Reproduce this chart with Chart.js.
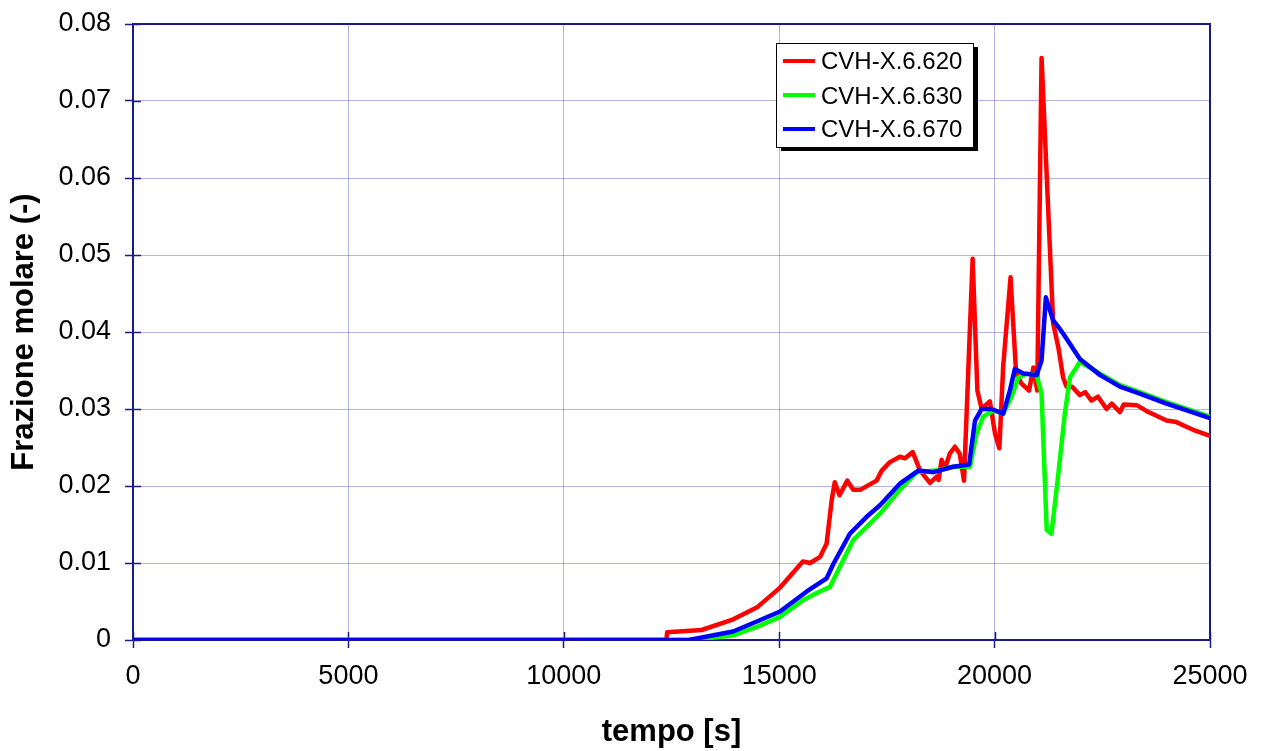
<!DOCTYPE html>
<html>
<head>
<meta charset="utf-8">
<script src="https://cdn.jsdelivr.net/npm/chart.js@4/dist/chart.umd.min.js"></script>
<style>
html,body{margin:0;padding:0;background:#fff;}
#wrap{width:1267px;height:751px;position:relative;}
</style>
</head>
<body>
<div id="wrap"><canvas id="c" width="1267" height="751"></canvas></div>
<script>
const seriesNames = ['CVH-X.6.620', 'CVH-X.6.630', 'CVH-X.6.670'];
const seriesColors = ['#ff0000', '#00ff00', '#0000ff'];

const t620 = [0, 12380, 12400, 13200, 13900, 14500, 15000, 15550, 15720, 15950, 16100, 16220, 16290, 16400, 16580, 16720, 16880, 17260, 17380, 17570, 17800, 17920, 18100, 18270, 18500, 18650, 18700, 18770, 18850, 18960, 19080, 19190, 19290, 19490, 19600, 19700, 19890, 20010, 20110, 20200, 20370, 20500, 20625, 20800, 20900, 20990, 21090, 21360, 21480, 21590, 21670, 21800, 21980, 22100, 22250, 22400, 22600, 22720, 22910, 23000, 23300, 23570, 23990, 24220, 24450, 24610, 25000];
const v620 = [0, 0, 0.001, 0.0013, 0.0026, 0.0043, 0.0067, 0.0102, 0.0100, 0.0108, 0.0125, 0.0182, 0.0205, 0.0188, 0.0207, 0.0195, 0.0195, 0.0207, 0.0220, 0.0231, 0.0238, 0.0236, 0.0244, 0.0220, 0.0204, 0.0212, 0.0208, 0.0234, 0.0223, 0.0242, 0.0251, 0.0242, 0.0207, 0.0495, 0.0324, 0.0300, 0.0310, 0.0268, 0.0249, 0.0356, 0.0471, 0.0346, 0.0333, 0.0324, 0.0354, 0.0324, 0.0756, 0.0411, 0.0380, 0.0341, 0.0329, 0.0329, 0.0318, 0.0322, 0.0311, 0.0316, 0.0300, 0.0307, 0.0296, 0.0306, 0.0305, 0.0296, 0.0285, 0.0283, 0.0277, 0.0273, 0.0265];

const t630 = [0, 13000, 13930, 14480, 15020, 15560, 15870, 16180, 16410, 16720, 17030, 17340, 17800, 18190, 18650, 19040, 19430, 19580, 19735, 19970, 20200, 20395, 20550, 20750, 20975, 21090, 21210, 21320, 21480, 21630, 21750, 21980, 22450, 22910, 23370, 23990, 25000];
const v630 = [0, 0, 0.0006, 0.0017, 0.0030, 0.0052, 0.0061, 0.0069, 0.0095, 0.0130, 0.0147, 0.0164, 0.0195, 0.0218, 0.0220, 0.0225, 0.0225, 0.0268, 0.0290, 0.0298, 0.0294, 0.0316, 0.0341, 0.0346, 0.0344, 0.0320, 0.0143, 0.0138, 0.0216, 0.0294, 0.0341, 0.0361, 0.0346, 0.0331, 0.0322, 0.0309, 0.0290];

const t670 = [0, 12900, 13930, 14480, 15020, 15640, 16100, 16260, 16640, 17030, 17340, 17800, 18230, 18580, 19040, 19410, 19545, 19700, 19930, 20200, 20355, 20470, 20665, 20975, 21090, 21190, 21360, 21515, 21590, 21980, 22450, 22910, 23370, 23990, 25000];
const v670 = [0, 0, 0.0011, 0.0024, 0.0037, 0.0063, 0.0080, 0.0099, 0.0138, 0.0160, 0.0175, 0.0203, 0.0220, 0.0218, 0.0225, 0.0228, 0.0285, 0.0300, 0.0300, 0.0294, 0.0324, 0.0352, 0.0346, 0.0344, 0.0363, 0.0445, 0.0415, 0.0404, 0.0398, 0.0365, 0.0344, 0.0329, 0.0320, 0.0307, 0.0288];

const xTickLabels = ['0', '5000', '10000', '15000', '20000', '25000'];
const yTickLabels = ['0', '0.01', '0.02', '0.03', '0.04', '0.05', '0.06', '0.07', '0.08'];
const xTitle = 'tempo [s]';
const yTitle = 'Frazione molare (-)';

const FONT = "'Liberation Sans', Arial, sans-serif";
const FRAME = '#1a1a8c';
const GRID = 'rgba(60,60,170,0.38)';

function pts(ts, vs) { return ts.map((t, i) => ({x: t, y: vs[i]})); }

const frameAndTicks = {
  id: 'frameAndTicks',
  beforeDatasetsDraw(chart) {
    const {ctx, chartArea: a, scales} = chart;
    ctx.save();
    ctx.strokeStyle = FRAME;
    ctx.lineWidth = 2;
    ctx.strokeRect(a.left, a.top, a.right - a.left, a.bottom - a.top);
    ctx.lineWidth = 1.5;
    ctx.beginPath();
    scales.x.ticks.forEach(tk => {
      const px = Math.round(scales.x.getPixelForValue(tk.value)) + 0.5;
      ctx.moveTo(px, a.bottom); ctx.lineTo(px, a.bottom - 8);
    });
    scales.y.ticks.forEach(tk => {
      const py = Math.round(scales.y.getPixelForValue(tk.value)) + 0.5;
      ctx.moveTo(a.left, py); ctx.lineTo(a.left + 8, py);
    });
    ctx.stroke();
    ctx.restore();
  }
};

const boxLegend = {
  id: 'boxLegend',
  afterDraw(chart) {
    const {ctx} = chart;
    const bx = 776, by = 43, bw = 197, bh = 104;
    ctx.save();
    ctx.fillStyle = '#000';
    ctx.fillRect(bx + 5, by + 4, bw, bh);
    ctx.fillStyle = '#fff';
    ctx.fillRect(bx, by, bw, bh);
    ctx.strokeStyle = '#000';
    ctx.lineWidth = 1;
    ctx.strokeRect(bx + 0.5, by + 0.5, bw, bh);
    const rows = [61, 95, 129];
    const textRows = [62, 97, 130];
    ctx.font = '24px ' + FONT;
    ctx.textBaseline = 'middle';
    ctx.textAlign = 'left';
    seriesNames.forEach((name, i) => {
      ctx.strokeStyle = seriesColors[i];
      ctx.lineWidth = 4;
      ctx.beginPath();
      ctx.moveTo(783, rows[i]); ctx.lineTo(815, rows[i]);
      ctx.stroke();
      ctx.fillStyle = '#000';
      ctx.fillText(name, 821, textRows[i]);
    });
    ctx.restore();
  }
};

const orders = [2, 1, 0];
const tsAll = [t620, t630, t670];
const vsAll = [v620, v630, v670];

new Chart(document.getElementById('c'), {
  type: 'line',
  data: {
    datasets: seriesNames.map((n, i) => ({
      label: n,
      data: pts(tsAll[i], vsAll[i]),
      borderColor: seriesColors[i],
      backgroundColor: seriesColors[i],
      borderWidth: 4.5,
      pointRadius: 0,
      tension: 0,
      fill: false,
      order: orders[i],
      borderJoinStyle: 'round',
      borderCapStyle: 'round'
    }))
  },
  options: {
    responsive: false,
    animation: false,
    events: [],
    layout: {padding: {left: 0, top: 24, right: 57, bottom: 0}},
    plugins: {legend: {display: false}, tooltip: {enabled: false}},
    scales: {
      x: {
        type: 'linear', min: 0, max: 25000,
        afterFit(s) { s.height = 111; },
        afterBuildTicks(s) { s.ticks = xTickLabels.map(l => ({value: Number(l)})); },
        ticks: {
          color: '#000', font: {family: FONT, size: 27}, padding: 12,
          maxRotation: 0, autoSkip: false,
          callback: (v, i) => xTickLabels[i]
        },
        grid: {color: GRID, lineWidth: 1, tickColor: FRAME, tickLength: 8, tickWidth: 1.5},
        border: {color: FRAME, width: 2},
        title: {display: true, text: xTitle, color: '#000', font: {family: FONT, size: 31, weight: 'bold'}, padding: {top: 0, bottom: 0}}
      },
      y: {
        type: 'linear', min: 0, max: 0.08,
        afterFit(s) { s.width = 133; s.paddingTop = 10; s.paddingBottom = 10; },
        afterBuildTicks(s) { s.ticks = yTickLabels.map(l => ({value: Number(l)})); },
        ticks: {
          color: '#000', font: {family: FONT, size: 27}, padding: 14,
          autoSkip: false,
          callback: (v, i) => yTickLabels[i]
        },
        grid: {color: GRID, lineWidth: 1, tickColor: FRAME, tickLength: 8, tickWidth: 1.5},
        border: {color: FRAME, width: 2},
        title: {display: true, text: yTitle, color: '#000', font: {family: FONT, size: 31, weight: 'bold'}, padding: {top: 6, bottom: 0}}
      }
    }
  },
  plugins: [frameAndTicks, boxLegend]
});
</script>
</body>
</html>
